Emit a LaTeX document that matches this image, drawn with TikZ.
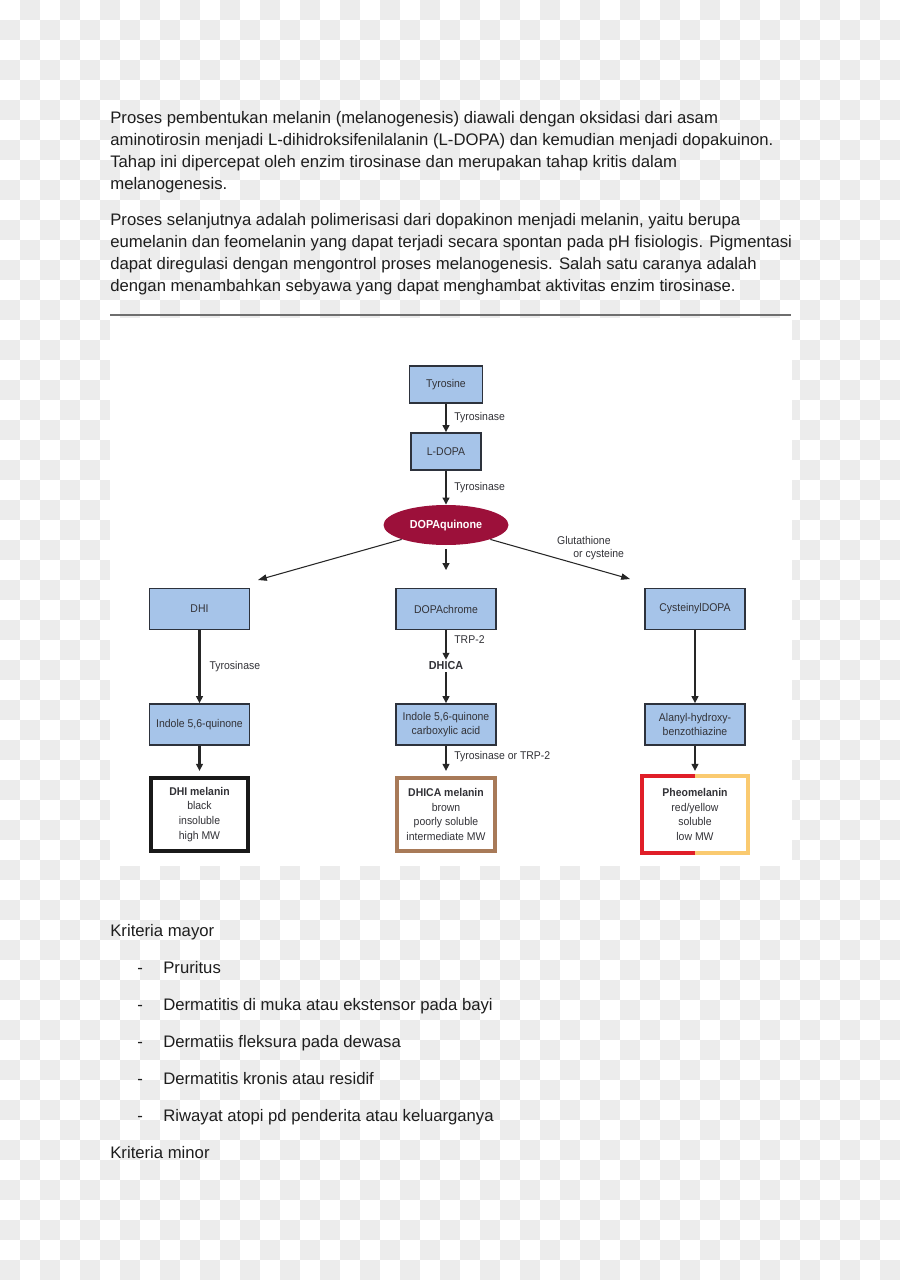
\documentclass[tikz,border=0pt]{standalone}
\usepackage{fontspec}
\setmainfont{Liberation Sans}
\newfontfamily\narrowsans[FakeStretch=0.93]{Liberation Sans}
\usepackage{xcolor}
\usepackage{tikz}
\usetikzlibrary{arrows.meta, shapes.geometric, positioning}
\definecolor{checker}{RGB}{236,236,236}
\definecolor{bodyink}{RGB}{30,30,30}
\definecolor{rulegray}{RGB}{110,110,110}
\definecolor{boxblue}{RGB}{166,196,233}
\definecolor{boxedge}{RGB}{45,50,60}
\definecolor{diagink}{RGB}{50,50,55}
\definecolor{quinone}{RGB}{156,16,58}
\definecolor{dhicabrown}{RGB}{168,122,88}
\definecolor{pheored}{RGB}{224,30,40}
\definecolor{pheoyellow}{RGB}{250,202,112}
\tikzset{
    bodytext/.style={inner sep=0pt, text=bodyink, font=\fontsize{9.5}{11}\selectfont},
    pathbox/.style={rectangle, draw=boxedge, line width=0.9pt, fill=boxblue, minimum width=2cm, minimum height=0.82cm, align=center, text=diagink, font=\narrowsans\fontsize{6.4}{7.8}\selectfont, inner sep=1pt},
    quinonebox/.style={ellipse, fill=quinone, text=white, minimum width=2.5cm, minimum height=0.8cm, font=\narrowsans\bfseries\fontsize{6.6}{8}\selectfont},
    melaninbox/.style={rectangle, line width=2.3pt, fill=white, minimum width=1.95cm, minimum height=1.45cm, align=center, text=diagink, font=\narrowsans\fontsize{6.4}{8.5}\selectfont},
    steplabel/.style={text=diagink, font=\narrowsans\fontsize{6.4}{7.8}\selectfont, inner sep=1pt, align=left},
    flow/.style={-{Triangle[length=4pt, width=3.8pt]}, line width=1.5pt, black!85},
    branch/.style={-{Triangle[length=5pt, width=3.6pt]}, line width=0.6pt, black!85}
}
\begin{document}
\begin{tikzpicture}[x=0.02cm, y=-0.02cm]
    % page background (transparency checker)
    \fill[white] (0,0) rectangle (900,1280);
    \foreach \j in {0,2,...,62} {
        \foreach \i in {1,3,...,43} {
            \fill[checker] (20*\i,20*\j) rectangle +(20,20);
            \fill[checker] (20*\i-20,20*\j+20) rectangle +(20,20);
        }
        \fill[checker] (880,20*\j+20) rectangle +(20,20);
    }

    % Intro paragraphs
    \node[bodytext, anchor=base west] (para1a) at (110,124) {Proses pembentukan melanin (melanogenesis) diawali dengan oksidasi dari asam};
    \node[bodytext, anchor=base west] (para1b) at (110,146) {aminotirosin menjadi L-dihidroksifenilalanin (L-DOPA) dan kemudian menjadi dopakuinon.};
    \node[bodytext, anchor=base west] (para1c) at (110,168) {Tahap ini dipercepat oleh enzim tirosinase dan merupakan tahap kritis dalam};
    \node[bodytext, anchor=base west] (para1d) at (110,190) {melanogenesis.};
    \node[bodytext, anchor=base west] (para2a) at (110,226) {Proses selanjutnya adalah polimerisasi dari dopakinon menjadi melanin, yaitu berupa};
    \node[bodytext, anchor=base west] (para2b) at (110,248) {eumelanin dan feomelanin yang dapat terjadi secara spontan pada pH fisiologis. Pigmentasi};
    \node[bodytext, anchor=base west] (para2c) at (110,270) {dapat diregulasi dengan mengontrol proses melanogenesis. Salah satu caranya adalah};
    \node[bodytext, anchor=base west] (para2d) at (110,292) {dengan menambahkan sebyawa yang dapat menghambat aktivitas enzim tirosinase.};

    \draw[rulegray, line width=0.9pt] (110,315) -- (791,315);

    % Figure area
    \fill[white] (110,318) rectangle (792,866);

    % Pathway nodes
    \node[pathbox, minimum width=1.46cm, minimum height=0.74cm] (tyr) at (446,384.5) {Tyrosine};
    \node[pathbox, minimum width=1.40cm, minimum height=0.74cm] (ldopa) at (446,451.5) {L-DOPA};
    \node[quinonebox] (dopaq) at (446,525) {DOPAquinone};

    \node[pathbox] (dhi) at (199.5,609) {DHI};
    \node[pathbox] (dopachrome) at (446,609) {DOPAchrome};
    \node[pathbox] (cysdopa) at (695,609) {CysteinylDOPA};

    \node[steplabel, font=\narrowsans\bfseries\fontsize{6.6}{8}\selectfont] (dhica) at (446,666) {DHICA};

    \node[pathbox] (indq) at (199.5,724.5) {Indole 5,6-quinone};
    \node[pathbox] (indca) at (446,724.5) {Indole 5,6-quinone\\carboxylic acid};
    \node[pathbox] (alanyl) at (695,724.5) {Alanyl-hydroxy-\\benzothiazine};

    \node[melaninbox, draw=black!90] (dhimel) at (199.5,814.5) {\textbf{DHI melanin}\\black\\insoluble\\high MW};
    \node[melaninbox, draw=dhicabrown] (dhicamel) at (446,814.5) {\textbf{DHICA melanin}\\brown\\poorly soluble\\intermediate MW};
    \node[melaninbox, minimum width=2.05cm] (pheomel) at (695,814.5) {\textbf{Pheomelanin}\\red/yellow\\soluble\\low MW};
    \draw[pheored, line width=2.3pt] (pheomel.north) -| (pheomel.south west) -- (pheomel.south);
    \draw[pheoyellow, line width=2.3pt] (pheomel.north) -| (pheomel.south east) -- (pheomel.south);

    % Connectors
    \coordinate (dhitip) at (258,580);
    \coordinate (cystip) at (630,579);
    \draw[flow] (tyr) -- (ldopa) node[midway, right=3pt, steplabel] {Tyrosinase};
    \draw[flow] (ldopa) -- (dopaq) node[midway, right=3pt, steplabel] {Tyrosinase};
    \draw[branch] (dopaq.-162) -- (dhitip);
    \draw[branch] (dopaq.-18) -- (cystip);
    \node[steplabel, anchor=west] (glutlabel) at (555,548) {Glutathione\\\hspace{1.45em}or cysteine};
    \draw[flow, shorten <=2pt, shorten >=10pt] (dopaq) -- (dopachrome);

    \draw[flow] (dhi) -- (indq) node[midway, right=4pt, steplabel] {Tyrosinase};
    \draw[flow] (dopachrome) -- (dhica) node[pos=0.32, right=3pt, steplabel] {TRP-2};
    \draw[flow] (dhica) -- (indca);
    \draw[flow] (cysdopa) -- (alanyl);

    \draw[flow, shorten >=3pt] (indq) -- (dhimel);
    \draw[flow, shorten >=3pt] (indca) -- (dhicamel) node[pos=0.35, right=3pt, steplabel] {Tyrosinase or TRP-2};
    \draw[flow, shorten >=3pt] (alanyl) -- (pheomel);

    % Criteria list
    \node[bodytext, anchor=base west] (mayor) at (110,936) {Kriteria mayor};
    \foreach \y/\txt [count=\k] in {973/Pruritus, 1010/Dermatitis di muka atau ekstensor pada bayi, 1047/Dermatiis fleksura pada dewasa, 1084/Dermatitis kronis atau residif, 1121/Riwayat atopi pd penderita atau keluarganya} {
        \node[bodytext, anchor=base west] (dash\k) at (137,\y) {-};
        \node[bodytext, anchor=base west] (item\k) at (163,\y) {\txt};
    }
    \node[bodytext, anchor=base west] (minor) at (110,1158) {Kriteria minor};
\end{tikzpicture}
\end{document}
